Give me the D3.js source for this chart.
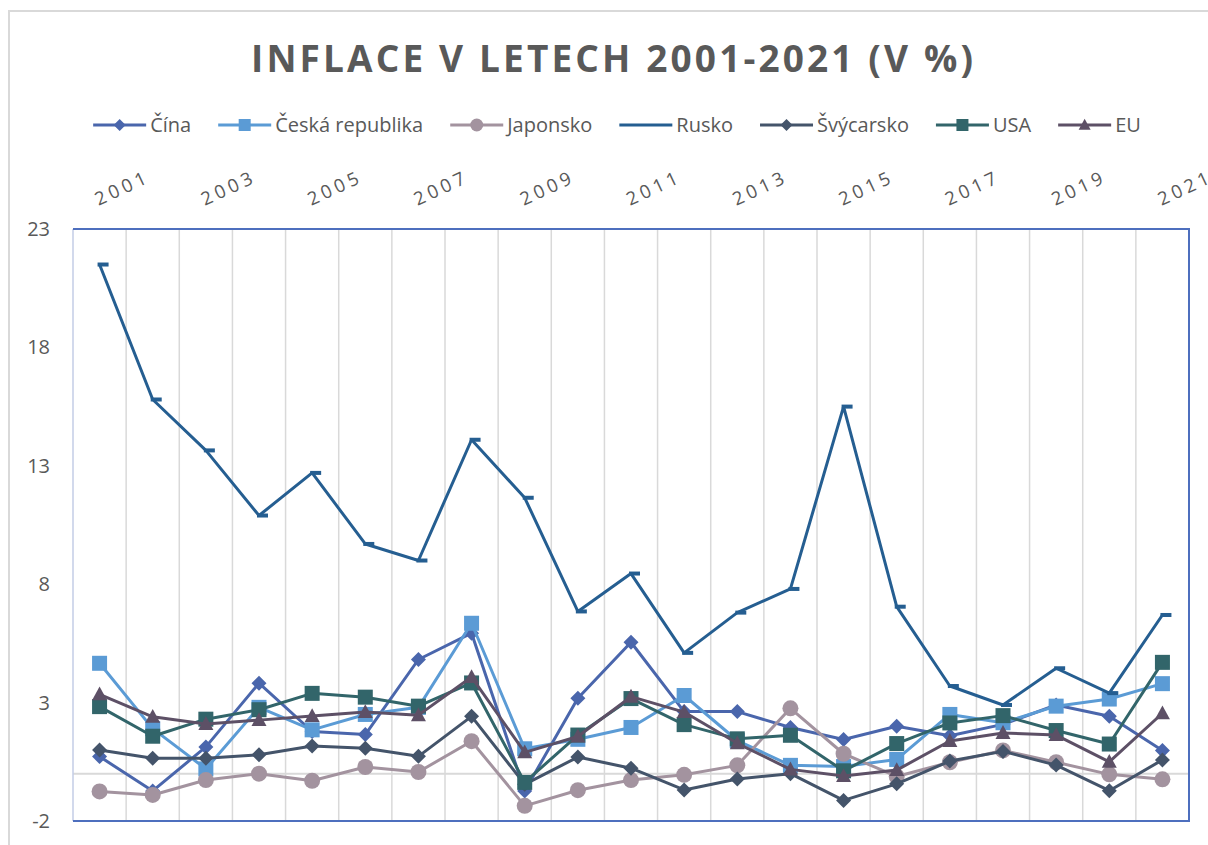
<!DOCTYPE html>
<html>
<head>
<meta charset="utf-8">
<script src="https://cdn.jsdelivr.net/npm/d3@7"></script>
<style>
  body { margin: 0; background: #fff; }
  svg { display: block; font-family: "Open Sans", sans-serif; }
</style>
</head>
<body>
<svg width="1208" height="845"></svg>
<script>
// inflation data (%)
var years = ["2001", "2002", "2003", "2004", "2005", "2006", "2007", "2008", "2009", "2010", "2011",
  "2012", "2013", "2014", "2015", "2016", "2017", "2018", "2019", "2020", "2021"];
var yearLabels = ["2001", "2003", "2005", "2007", "2009", "2011", "2013", "2015", "2017", "2019", "2021"];
var valueTicks = [-2, 3, 8, 13, 18, 23];

var cina = [0.72, -0.73, 1.13, 3.82, 1.78, 1.65, 4.82, 5.93, -0.73, 3.18, 5.55, 2.62, 2.62, 1.95, 1.44, 2.0, 1.6, 2.08, 2.9, 2.42, 0.98];
var cesko = [4.66, 1.9, 0.2, 2.8, 1.85, 2.5, 2.8, 6.35, 1.05, 1.45, 1.95, 3.3, 1.4, 0.35, 0.3, 0.6, 2.5, 2.15, 2.85, 3.15, 3.8];
var japonsko = [-0.75, -0.9, -0.27, 0.0, -0.3, 0.28, 0.07, 1.37, -1.36, -0.7, -0.27, -0.05, 0.35, 2.76, 0.84, -0.12, 0.48, 0.98, 0.48, -0.03, -0.24];
var rusko = [21.5, 15.8, 13.65, 10.9, 12.7, 9.7, 9.0, 14.1, 11.65, 6.85, 8.45, 5.1, 6.8, 7.8, 15.5, 7.05, 3.7, 2.9, 4.45, 3.4, 6.7];
var svycarsko = [1.0, 0.65, 0.65, 0.8, 1.17, 1.07, 0.73, 2.42, -0.45, 0.7, 0.23, -0.69, -0.23, 0.0, -1.13, -0.43, 0.53, 0.94, 0.36, -0.72, 0.58];
var usa = [2.83, 1.58, 2.3, 2.7, 3.39, 3.23, 2.85, 3.83, -0.37, 1.63, 3.17, 2.07, 1.47, 1.62, 0.12, 1.27, 2.14, 2.45, 1.82, 1.25, 4.7];
var eu = [3.35, 2.4, 2.1, 2.26, 2.43, 2.6, 2.47, 4.08, 0.9, 1.57, 3.25, 2.6, 1.28, 0.18, -0.1, 0.15, 1.38, 1.72, 1.63, 0.5, 2.55];

var series = [
  { name: "Čína", values: cina, color: "#4A66AC", marker: "diamond" },
  { name: "Česká republika", values: cesko, color: "#5B9BD5", marker: "square" },
  { name: "Japonsko", values: japonsko, color: "#A3939F", marker: "circle" },
  { name: "Rusko", values: rusko, color: "#255E91", marker: "dash" },
  { name: "Švýcarsko", values: svycarsko, color: "#44546A", marker: "diamond" },
  { name: "USA", values: usa, color: "#32656A", marker: "square" },
  { name: "EU", values: eu, color: "#5D5066", marker: "triangle" }
];

var svg = d3.select("svg");
var plot = { left: 73, right: 1189, top: 229, bottom: 821 };
var textColor = "#595959";

// chart area border
svg.append("rect").attr("x", 9).attr("y", 11).attr("width", 1300).attr("height", 900)
  .attr("fill", "#fff").attr("stroke", "#D9D9D9").attr("stroke-width", 2);

var x = d3.scaleBand().domain(years).range([plot.left, plot.right]);
var y = d3.scaleLinear().domain([-2, 23]).range([plot.bottom, plot.top]);
var cx = function (d, i) { return x(years[i]) + x.bandwidth() / 2; };

// title
svg.append("text").attr("x", 612).attr("y", 72).attr("text-anchor", "middle")
  .attr("font-size", 37).attr("font-weight", "bold").attr("fill", textColor)
  .attr("textLength", 722).attr("lengthAdjust", "spacing")
  .text("INFLACE V LETECH 2001-2021 (V %)");

// vertical gridlines between categories
svg.append("g").selectAll("line").data(years.slice(1)).enter().append("line")
  .attr("x1", function (d) { return x(d); }).attr("x2", function (d) { return x(d); })
  .attr("y1", plot.top).attr("y2", plot.bottom)
  .attr("stroke", "#D9D9D9").attr("stroke-width", 1.5);

// horizontal axis line at zero
svg.append("line").attr("x1", plot.left).attr("x2", plot.right)
  .attr("y1", y(0)).attr("y2", y(0)).attr("stroke", "#D9D9D9").attr("stroke-width", 2);

// plot area border
svg.append("line").attr("x1", plot.left).attr("x2", plot.left).attr("y1", plot.top).attr("y2", plot.bottom)
  .attr("stroke", "#C3CCE6").attr("stroke-width", 1.5);
svg.append("path").attr("fill", "none").attr("stroke", "#4E6FBE").attr("stroke-width", 2)
  .attr("d", "M" + plot.left + "," + plot.top + "H" + plot.right + "V" + plot.bottom + "H" + plot.left);

// value axis
var yAxis = svg.append("g").attr("transform", "translate(" + plot.left + ",0)")
  .call(d3.axisLeft(y).tickValues(valueTicks).tickSize(0).tickPadding(23)
    .tickFormat(function (d) { return String(d); }));
yAxis.select(".domain").remove();
yAxis.selectAll("text").attr("font-size", 20).attr("fill", textColor).attr("font-family", "Open Sans");

// category axis on top, rotated labels
var xAxis = svg.append("g").attr("transform", "translate(0,206)")
  .call(d3.axisTop(x).tickValues(yearLabels).tickSize(0));
xAxis.select(".domain").remove();
xAxis.selectAll(".tick").attr("transform", function (d) {
  return "translate(" + (x(d) + x.bandwidth() / 2 - 1) + ",0)";
});
xAxis.selectAll("text").attr("x", 0).attr("y", 0).attr("dy", 0)
  .attr("text-anchor", "start").attr("transform", "rotate(-25)")
  .attr("font-size", 18.5).attr("letter-spacing", "4px").attr("fill", textColor)
  .attr("font-family", "Open Sans");

function drawMarker(sel, type, color, s) {
  if (type === "diamond") {
    sel.append("path").attr("d", "M0," + (-s) + "L" + s + ",0L0," + s + "L" + (-s) + ",0Z").attr("fill", color);
  } else if (type === "square") {
    sel.append("rect").attr("x", -s).attr("y", -s).attr("width", 2 * s).attr("height", 2 * s).attr("fill", color);
  } else if (type === "circle") {
    sel.append("circle").attr("r", s).attr("fill", color);
  } else if (type === "triangle") {
    sel.append("path").attr("d", "M0," + (-s * 1.05) + "L" + s + "," + (s * 0.8) + "L" + (-s) + "," + (s * 0.8) + "Z").attr("fill", color);
  } else if (type === "dash") {
    sel.append("rect").attr("x", -2).attr("y", -2).attr("width", 11).attr("height", 4).attr("fill", color);
  }
}

var line = d3.line().x(cx).y(function (d) { return y(d); });

series.forEach(function (s) {
  var g = svg.append("g");
  g.append("path").datum(s.values).attr("fill", "none").attr("stroke", s.color)
    .attr("stroke-width", 3).attr("stroke-linejoin", "round").attr("d", line);
  g.selectAll("g.m").data(s.values).enter().append("g").attr("class", "m")
    .attr("transform", function (d, i) { return "translate(" + cx(d, i) + "," + y(d) + ")"; })
    .each(function () { drawMarker(d3.select(this), s.marker, s.color, s.marker === "circle" ? 8 : 7.5); });
});

// legend
var legend = svg.append("g");
var lx = 0;
var gap = 27;
series.forEach(function (s, i) {
  var item = legend.append("g").attr("transform", "translate(" + lx + ",0)");
  item.append("line").attr("x1", 0).attr("x2", 53).attr("y1", 0).attr("y2", 0)
    .attr("stroke", s.color).attr("stroke-width", 3);
  var m = item.append("g").attr("transform", "translate(26.5,0)");
  if (s.marker !== "dash") drawMarker(m, s.marker, s.color, s.marker === "circle" ? 6.5 : 6);
  var t = item.append("text").attr("x", 57).attr("y", 0).attr("dy", "0.35em")
    .attr("font-size", 20).attr("fill", textColor).text(s.name);
  lx += 57 + t.node().getComputedTextLength() + gap;
});
var legendWidth = lx - gap;
legend.attr("transform", "translate(" + (617 - legendWidth / 2) + ",125)");
</script>
</body>
</html>
